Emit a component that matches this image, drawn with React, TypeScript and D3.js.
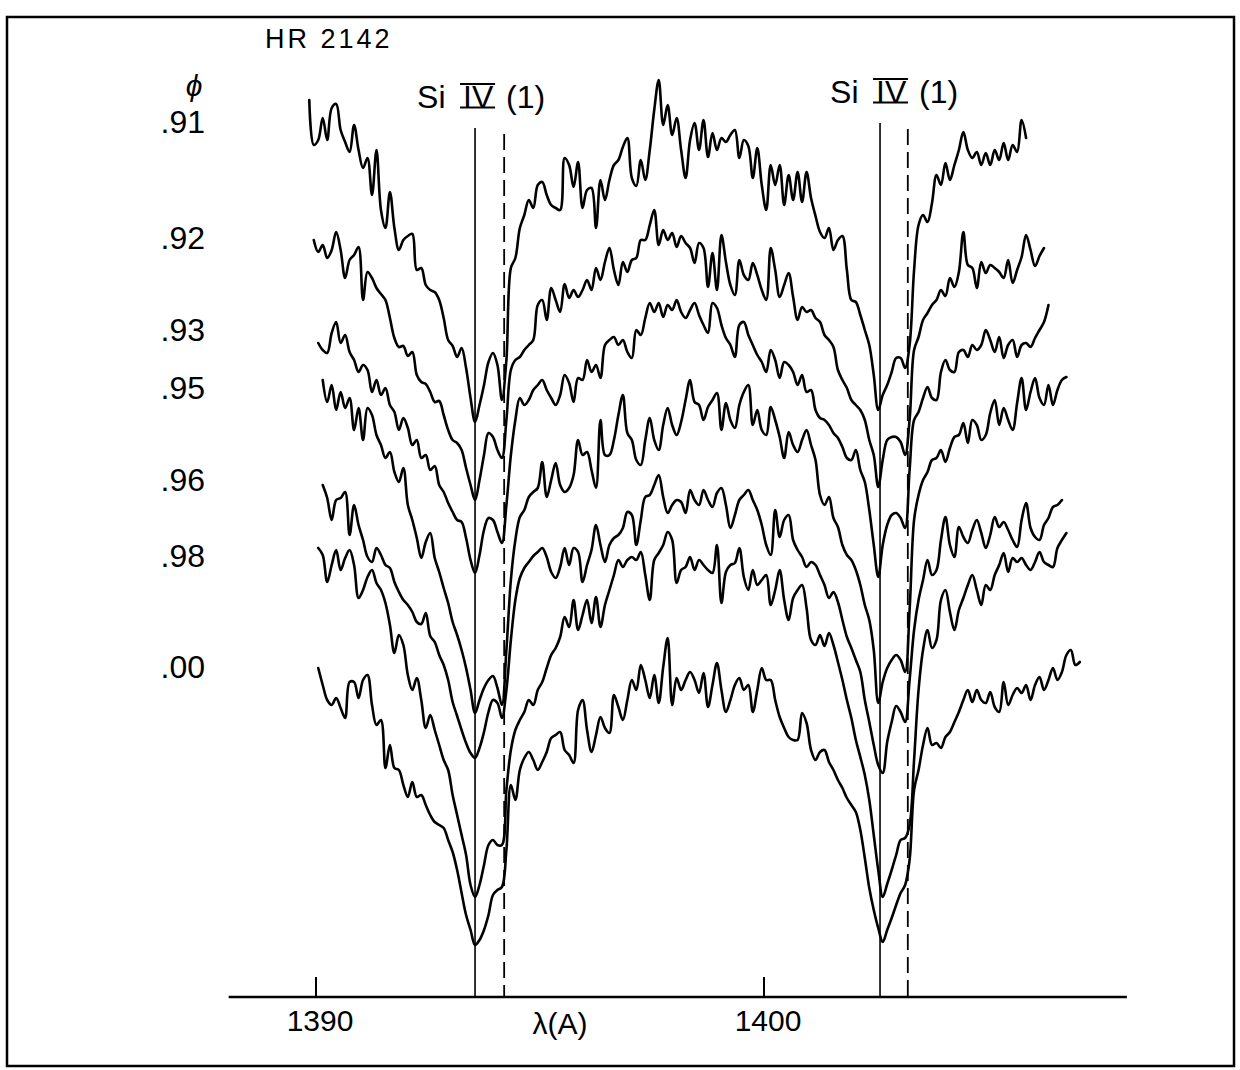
import React from "react";
import * as d3 from "d3";

// ---------------- data ----------------
const starName = "HR 2142";
const phaseSymbol = "ϕ";
const phaseLabels = [".91", ".92", ".93", ".95", ".96", ".98", ".00"];
// first wavelength (Å) of each tracing, sampled every 0.1 Å
const startWavelengths = [1389.85, 1389.95, 1390.05, 1390.15, 1390.15, 1390.05, 1390.05];
const wavelengthStep = 0.1;

const flux91 = [
  9.00, 8.55, 8.60, 8.82, 8.60, 8.92, 8.96, 8.70, 8.58, 8.48,
  8.75, 8.50, 8.32, 8.42, 8.05, 8.50, 7.90, 7.72, 8.08, 7.72,
  7.50, 7.60, 7.64, 7.66, 7.30, 7.32, 7.15, 7.10, 7.08, 7.00,
  6.82, 6.60, 6.54, 6.43, 6.52, 6.32, 6.02, 5.78, 5.95, 6.15,
  6.38, 6.47, 6.35, 6.00, 6.40, 7.32, 7.42, 7.72, 7.85, 8.00,
  7.92, 8.15, 8.18, 8.05, 7.95, 7.92, 7.90, 8.42, 8.35, 8.13,
  8.38, 7.92, 8.10, 8.12, 7.72, 8.20, 8.00, 8.20, 8.35, 8.40,
  8.53, 8.62, 8.22, 8.14, 8.40, 8.20, 8.50, 8.90, 9.20, 8.75,
  8.95, 8.65, 8.82, 8.50, 8.22, 8.60, 8.77, 8.50, 8.80, 8.43,
  8.67, 8.50, 8.62, 8.58, 8.65, 8.70, 8.42, 8.60, 8.54, 8.22,
  8.52, 8.15, 7.90, 8.35, 8.15, 8.35, 7.95, 8.25, 8.00, 8.28,
  7.98, 8.28, 8.02, 7.84, 7.68, 7.62, 7.72, 7.50, 7.60, 7.64,
  7.30, 7.00, 6.98, 6.85, 6.70, 6.55, 6.25, 5.90, 6.05, 6.15,
  6.28, 6.42, 6.42, 6.32, 6.55, 7.30, 7.75, 7.85, 7.78, 7.97,
  8.25, 8.15, 8.37, 8.20, 8.35, 8.50, 8.68, 8.50, 8.42, 8.48,
  8.35, 8.47, 8.35, 8.50, 8.40, 8.57, 8.40, 8.55, 8.48, 8.80, 8.62,
];
const flux92 = [
  7.60, 7.48, 7.55, 7.42, 7.50, 7.68, 7.50, 7.22, 7.40,
  7.45, 7.53, 7.00, 7.28, 7.22, 7.12, 7.06, 7.00, 6.82, 6.62,
  6.53, 6.54, 6.44, 6.48, 6.25, 6.18, 6.16, 6.08, 5.98, 5.99,
  5.85, 5.70, 5.60, 5.57, 5.50, 5.32, 5.15, 5.00, 5.20, 5.45,
  5.67, 5.63, 5.50, 5.42, 5.80, 6.30, 6.40, 6.43, 6.50, 6.55,
  6.60, 6.95, 7.00, 6.80, 7.12, 7.00, 6.88, 7.16, 7.02, 7.10,
  7.03, 7.10, 7.20, 7.10, 7.32, 7.20, 7.38, 7.52, 7.30, 7.15,
  7.38, 7.28, 7.40, 7.42, 7.60, 7.60, 7.75, 7.90, 7.55, 7.70,
  7.60, 7.67, 7.53, 7.64, 7.57, 7.52, 7.37, 7.57, 7.52, 7.13,
  7.47, 7.10, 7.65, 7.38, 7.15, 7.05, 7.40, 7.25, 7.20, 7.37,
  7.25, 7.10, 7.00, 7.52, 7.30, 7.03, 7.15, 7.27, 7.03, 6.80,
  6.93, 6.88, 6.90, 6.82, 6.78, 6.65, 6.60, 6.53, 6.30, 6.20,
  6.12, 6.00, 5.95, 5.90, 5.80, 5.60, 5.45, 5.13, 5.40, 5.60,
  5.63, 5.63, 5.58, 5.45, 5.80, 6.50, 6.63, 6.80, 6.87, 6.95,
  7.00, 7.10, 7.04, 7.22, 7.13, 7.28, 7.68, 7.35, 7.32, 7.12,
  7.38, 7.27, 7.35, 7.32, 7.28, 7.22, 7.40, 7.17, 7.30, 7.43,
  7.65, 7.50, 7.34, 7.44, 7.52,
];
const flux93 = [
  6.57, 6.50, 6.47, 6.67, 6.78, 6.57, 6.65, 6.48,
  6.40, 6.28, 6.35, 6.30, 6.08, 6.20, 6.05, 6.12, 5.95, 5.88,
  5.70, 5.82, 5.72, 5.55, 5.60, 5.42, 5.45, 5.30, 5.34, 5.15,
  5.08, 4.97, 4.88, 4.80, 4.78, 4.62, 4.40, 4.27, 4.45, 4.70,
  4.82, 4.80, 4.68, 4.57, 4.95, 5.45, 5.80, 6.02, 5.95, 6.00,
  6.10, 6.15, 6.20, 6.10, 6.02, 5.95, 6.05, 6.25, 6.17, 5.98,
  6.22, 6.20, 6.40, 6.28, 6.35, 6.22, 6.55, 6.60, 6.63, 6.55,
  6.60, 6.48, 6.42, 6.70, 6.65, 6.82, 6.97, 6.88, 6.97, 6.83,
  6.95, 6.90, 7.00, 6.88, 6.82, 6.90, 6.97, 6.85, 6.75, 6.67,
  6.97, 6.92, 6.75, 6.62, 6.55, 6.43, 6.75, 6.78, 6.65, 6.55,
  6.45, 6.38, 6.28, 6.50, 6.40, 6.22, 6.38, 6.35, 6.28, 6.15,
  6.25, 6.08, 6.10, 5.90, 5.82, 5.80, 5.75, 5.67, 5.62, 5.53,
  5.42, 5.40, 5.50, 5.30, 5.18, 4.90, 4.55, 4.23, 4.55, 4.75,
  4.85, 4.87, 4.82, 4.72, 5.30, 5.80, 5.88, 6.02, 6.13, 6.02,
  6.00, 6.28, 6.40, 6.30, 6.28, 6.48, 6.50, 6.43, 6.55, 6.50,
  6.55, 6.70, 6.60, 6.48, 6.63, 6.42, 6.55, 6.60, 6.43, 6.55,
  6.57, 6.53, 6.62, 6.70, 6.78, 6.95,
];
const flux95 = [
  6.20, 5.98, 6.15, 5.90, 6.08, 5.92, 6.02,
  5.70, 5.92, 5.60, 5.92, 5.85, 5.65, 5.55, 5.42, 5.48, 5.28,
  5.18, 5.32, 4.95, 4.80, 4.62, 4.42, 4.58, 4.67, 4.42, 4.28,
  4.12, 3.97, 3.78, 3.65, 3.50, 3.32, 3.10, 2.87, 3.00, 3.12,
  3.20, 3.24, 3.12, 2.95, 3.50, 4.20, 4.60, 4.83, 4.90, 5.03,
  5.08, 5.12, 5.38, 5.03, 5.20, 5.37, 5.15, 5.08, 5.12, 5.25,
  5.60, 5.45, 5.48, 5.30, 5.12, 5.80, 5.45, 5.45, 5.60, 5.85,
  6.05, 5.67, 5.60, 5.40, 5.35, 5.60, 5.82, 5.60, 5.50, 5.75,
  5.92, 5.75, 5.65, 5.78, 6.00, 6.20, 5.98, 5.95, 5.80, 5.93,
  6.00, 6.07, 5.70, 5.97, 5.80, 5.72, 5.95, 6.08, 6.15, 5.75,
  5.90, 5.70, 5.65, 5.93, 5.80, 5.63, 5.42, 5.68, 5.55, 5.48,
  5.60, 5.70, 5.55, 5.40, 5.05, 4.95, 5.03, 4.82, 4.73, 4.55,
  4.45, 4.40, 4.30, 4.15, 3.95, 3.80, 3.50, 2.97, 3.18, 3.32,
  3.40, 3.45, 3.40, 3.28, 3.90, 4.80, 5.05, 5.20, 5.28, 5.40,
  5.42, 5.50, 5.38, 5.52, 5.63, 5.65, 5.77, 5.57, 5.80, 5.75,
  5.60, 5.65, 5.87, 6.00, 5.75, 5.92, 5.80, 5.70, 5.97, 6.22,
  5.90, 6.08, 6.22, 6.02, 5.95, 6.15, 5.95, 6.10, 6.20, 6.23,
];
const flux96 = [
  5.15, 5.02, 4.80, 5.00, 5.02, 5.08, 4.65,
  4.95, 4.75, 4.60, 4.43, 4.38, 4.52, 4.45, 4.35, 4.32, 4.18,
  4.08, 4.00, 3.95, 3.88, 3.78, 3.76, 3.87, 3.64, 3.58, 3.45,
  3.35, 3.20, 2.98, 2.84, 2.70, 2.57, 2.47, 2.42, 2.52, 2.68,
  2.88, 3.00, 2.97, 2.82, 3.10, 3.60, 4.00, 4.22, 4.32, 4.38,
  4.44, 4.48, 4.52, 4.43, 4.28, 4.22, 4.33, 4.52, 4.35, 4.52,
  4.48, 4.18, 4.35, 4.50, 4.75, 4.55, 4.38, 4.55, 4.62, 4.65,
  4.72, 4.88, 4.85, 4.55, 4.80, 5.03, 5.05, 5.15, 5.25, 5.03,
  4.87, 4.95, 5.00, 4.98, 4.87, 5.10, 5.00, 4.95, 5.10, 5.00,
  4.93, 5.07, 5.12, 4.95, 4.72, 4.85, 5.00, 5.05, 5.10, 5.00,
  4.90, 4.75, 4.55, 4.45, 4.90, 4.63, 4.80, 4.85, 4.60, 4.50,
  4.43, 4.33, 4.38, 4.35, 4.25, 4.15, 4.02, 4.08, 3.98, 3.80,
  3.63, 3.52, 3.40, 3.28, 3.00, 2.78, 2.55, 2.35, 2.27, 2.58,
  2.78, 2.94, 2.88, 2.78, 3.20, 3.70, 4.00, 4.20, 4.40, 4.25,
  4.30, 4.60, 4.83, 4.55, 4.43, 4.73, 4.63, 4.57, 4.70, 4.80,
  4.67, 4.52, 4.65, 4.83, 4.73, 4.78, 4.70, 4.60, 4.53, 4.80,
  4.97, 4.72, 4.63, 4.60, 4.75, 4.82, 4.93, 4.95, 5.00,
];
const flux98 = [
  4.52, 4.45, 4.18, 4.35, 4.50, 4.30, 4.42, 4.50,
  4.35, 4.02, 4.10, 4.23, 4.30, 4.17, 4.10, 3.97, 3.75, 3.47,
  3.65, 3.55, 3.25, 3.10, 3.22, 3.00, 2.72, 2.85, 2.70, 2.55,
  2.40, 2.30, 2.05, 1.85, 1.65, 1.45, 1.15, 1.03, 1.15, 1.35,
  1.55, 1.60, 1.55, 1.55, 2.10, 2.50, 2.70, 2.80, 2.88, 3.00,
  2.95, 3.10, 3.18, 3.32, 3.45, 3.52, 3.63, 3.83, 3.73, 4.00,
  3.70, 3.85, 4.00, 3.77, 4.03, 3.73, 3.95, 4.10, 4.25, 4.40,
  4.33, 4.40, 4.43, 4.40, 4.48, 4.25, 4.00, 4.40, 4.47, 4.55,
  4.68, 4.60, 4.17, 4.30, 4.33, 4.43, 4.30, 4.40, 4.35, 4.30,
  4.27, 4.55, 3.97, 4.28, 4.35, 4.37, 4.52, 4.23, 4.10, 4.30,
  4.15, 4.20, 4.25, 3.95, 4.10, 4.30, 4.00, 3.80, 4.02, 4.10,
  4.15, 3.92, 3.60, 3.55, 3.65, 3.54, 3.67, 3.55, 3.38, 3.20,
  3.00, 2.82, 2.60, 2.43, 2.25, 2.00, 1.65, 1.30, 1.03, 1.16,
  1.30, 1.45, 1.60, 1.62, 1.75, 2.40, 3.10, 3.50, 3.70, 3.52,
  3.60, 4.00, 4.10, 3.88, 3.70, 3.90, 4.02, 4.15, 4.25, 4.10,
  3.95, 4.15, 4.10, 4.25, 4.35, 4.47, 4.28, 4.42, 4.38, 4.42,
  4.35, 4.30, 4.38, 4.48, 4.38, 4.35, 4.33, 4.52, 4.60, 4.67,
];
const flux00 = [
  3.32, 3.15, 3.00, 2.95, 3.02, 2.92, 2.82, 3.18,
  3.18, 3.02, 3.20, 3.25, 2.95, 2.75, 2.80, 2.32, 2.55, 2.32,
  2.30, 2.15, 2.03, 2.18, 2.03, 2.05, 1.95, 1.85, 1.78, 1.75,
  1.72, 1.60, 1.48, 1.30, 1.07, 0.85, 0.70, 0.55, 0.60, 0.70,
  0.85, 1.05, 1.10, 1.13, 1.50, 2.15, 2.00, 2.30, 2.42, 2.48,
  2.40, 2.30, 2.38, 2.48, 2.62, 2.65, 2.68, 2.50, 2.45, 2.37,
  2.90, 3.00, 2.70, 2.48, 2.65, 2.83, 2.72, 2.67, 3.05, 2.93,
  2.80, 3.00, 3.20, 3.10, 3.35, 3.20, 3.02, 3.25, 2.97, 3.33,
  3.62, 2.95, 3.22, 3.10, 3.20, 3.28, 3.20, 3.07, 3.27, 2.93,
  3.15, 3.37, 3.10, 2.88, 3.00, 3.15, 3.22, 3.10, 3.15, 2.88,
  3.10, 3.32, 3.20, 3.20, 3.00, 2.83, 2.72, 2.63, 2.60, 2.60,
  2.87, 2.77, 2.50, 2.40, 2.48, 2.50, 2.38, 2.30, 2.20, 2.12,
  2.02, 1.95, 1.88, 1.70, 1.42, 1.12, 0.90, 0.72, 0.58, 0.70,
  0.82, 0.95, 1.07, 1.15, 1.40, 2.10, 2.30, 2.55, 2.72, 2.55,
  2.57, 2.52, 2.63, 2.68, 2.78, 2.88, 3.00, 3.10, 2.98, 3.10,
  3.00, 2.97, 3.08, 2.93, 2.88, 3.18, 2.95, 3.05, 3.12, 3.07,
  3.15, 3.00, 3.15, 3.23, 3.10, 3.20, 3.32, 3.20, 3.28, 3.45,
  3.50, 3.35, 3.38,
];
const spectra = [flux91, flux92, flux93, flux95, flux96, flux98, flux00];

// Si IV doublet: observed (solid) and reference (dashed) wavelengths, Å
const siIVObserved = [1393.55, 1402.59];
const siIVReference = [1394.2, 1403.21];
const axisTicks = [1390, 1400];
const axisTitle = "λ(A)";

// ---------------- layout ----------------
const W = 1240;
const H = 1070;
const FONT = "Liberation Sans, Arial, Helvetica, sans-serif";
const AXIS_Y = 997;
const axisExtent = [1388.05, 1408.1];
const phaseBaselines = [133, 249, 341, 399, 491, 567, 678];
const lineLabelLayout = [
  { dx: -58, baseline: 108, top: 128 },
  { dx: -50, baseline: 103, top: 123 },
];

function SiIVLabel({ x0, baseline }: { x0: number; baseline: number }) {
  return (
    <g fontFamily={FONT} fontSize={32} fill="#000">
      <text x={x0} y={baseline}>Si</text>
      <text x={x0 + 46} y={baseline}>IV</text>
      <line x1={x0 + 43} x2={x0 + 78} y1={baseline - 24} y2={baseline - 24} stroke="#000" strokeWidth={2} />
      <line x1={x0 + 43} x2={x0 + 78} y1={baseline - 0.5} y2={baseline - 0.5} stroke="#000" strokeWidth={2} />
      <text x={x0 + 89} y={baseline}>(1)</text>
    </g>
  );
}

export default function App() {
  const x = d3.scaleLinear().domain([1390, 1400]).range([316, 764]);
  const y = d3.scaleLinear().domain([0, 10]).range([1000, 0]);

  const paths = spectra.map((vals, k) => {
    const start = startWavelengths[k];
    const gen = d3
      .line<number>()
      .x((_, i) => x(start + i * wavelengthStep))
      .y((d) => y(d))
      .curve(d3.curveCatmullRom.alpha(0.5));
    return gen(vals) || "";
  });

  return (
    <svg
      width={W}
      height={H}
      viewBox={`0 0 ${W} ${H}`}
      style={{ position: "absolute", left: 0, top: 0, background: "#fff" }}
    >
      <rect x={0} y={0} width={W} height={H} fill="#fff" />
      {/* frame */}
      <rect x={7} y={17} width={1227} height={1049} fill="none" stroke="#000" strokeWidth={2.5} />

      {/* title and phase labels */}
      <text x={265} y={48} fontFamily={FONT} fontSize={27} letterSpacing={3} fill="#000">
        {starName}
      </text>
      <text x={194} y={96} fontFamily={FONT} fontSize={30} fontStyle="italic" textAnchor="middle" fill="#000">
        {phaseSymbol}
      </text>
      {phaseLabels.map((p, i) => (
        <text key={p} x={205} y={phaseBaselines[i]} fontFamily={FONT} fontSize={32} textAnchor="end" fill="#000">
          {p}
        </text>
      ))}

      {/* Si IV marker lines */}
      {siIVObserved.map((w, i) => (
        <line key={"s" + i} x1={x(w)} x2={x(w)} y1={lineLabelLayout[i].top} y2={AXIS_Y} stroke="#000" strokeWidth={1.6} />
      ))}
      {siIVReference.map((w, i) => (
        <line
          key={"d" + i}
          x1={x(w)}
          x2={x(w)}
          y1={lineLabelLayout[i].top + 6}
          y2={AXIS_Y}
          stroke="#000"
          strokeWidth={1.8}
          strokeDasharray="16 7"
        />
      ))}
      {siIVObserved.map((w, i) => (
        <SiIVLabel key={"l" + i} x0={x(w) + lineLabelLayout[i].dx} baseline={lineLabelLayout[i].baseline} />
      ))}

      {/* spectra */}
      {paths.map((d, i) => (
        <path key={i} d={d} fill="none" stroke="#000" strokeWidth={2.6} strokeLinejoin="round" strokeLinecap="round" />
      ))}

      {/* wavelength axis */}
      <line x1={x(axisExtent[0])} x2={x(axisExtent[1])} y1={AXIS_Y} y2={AXIS_Y} stroke="#000" strokeWidth={2.5} />
      {axisTicks.map((t) => (
        <g key={t}>
          <line x1={x(t)} x2={x(t)} y1={AXIS_Y - 20} y2={AXIS_Y} stroke="#000" strokeWidth={2} />
          <text x={x(t) + 4} y={1031} fontFamily={FONT} fontSize={30} textAnchor="middle" fill="#000">
            {t}
          </text>
        </g>
      ))}
      <text x={560} y={1034} fontFamily={FONT} fontSize={30} textAnchor="middle" fill="#000">
        {axisTitle}
      </text>
    </svg>
  );
}
